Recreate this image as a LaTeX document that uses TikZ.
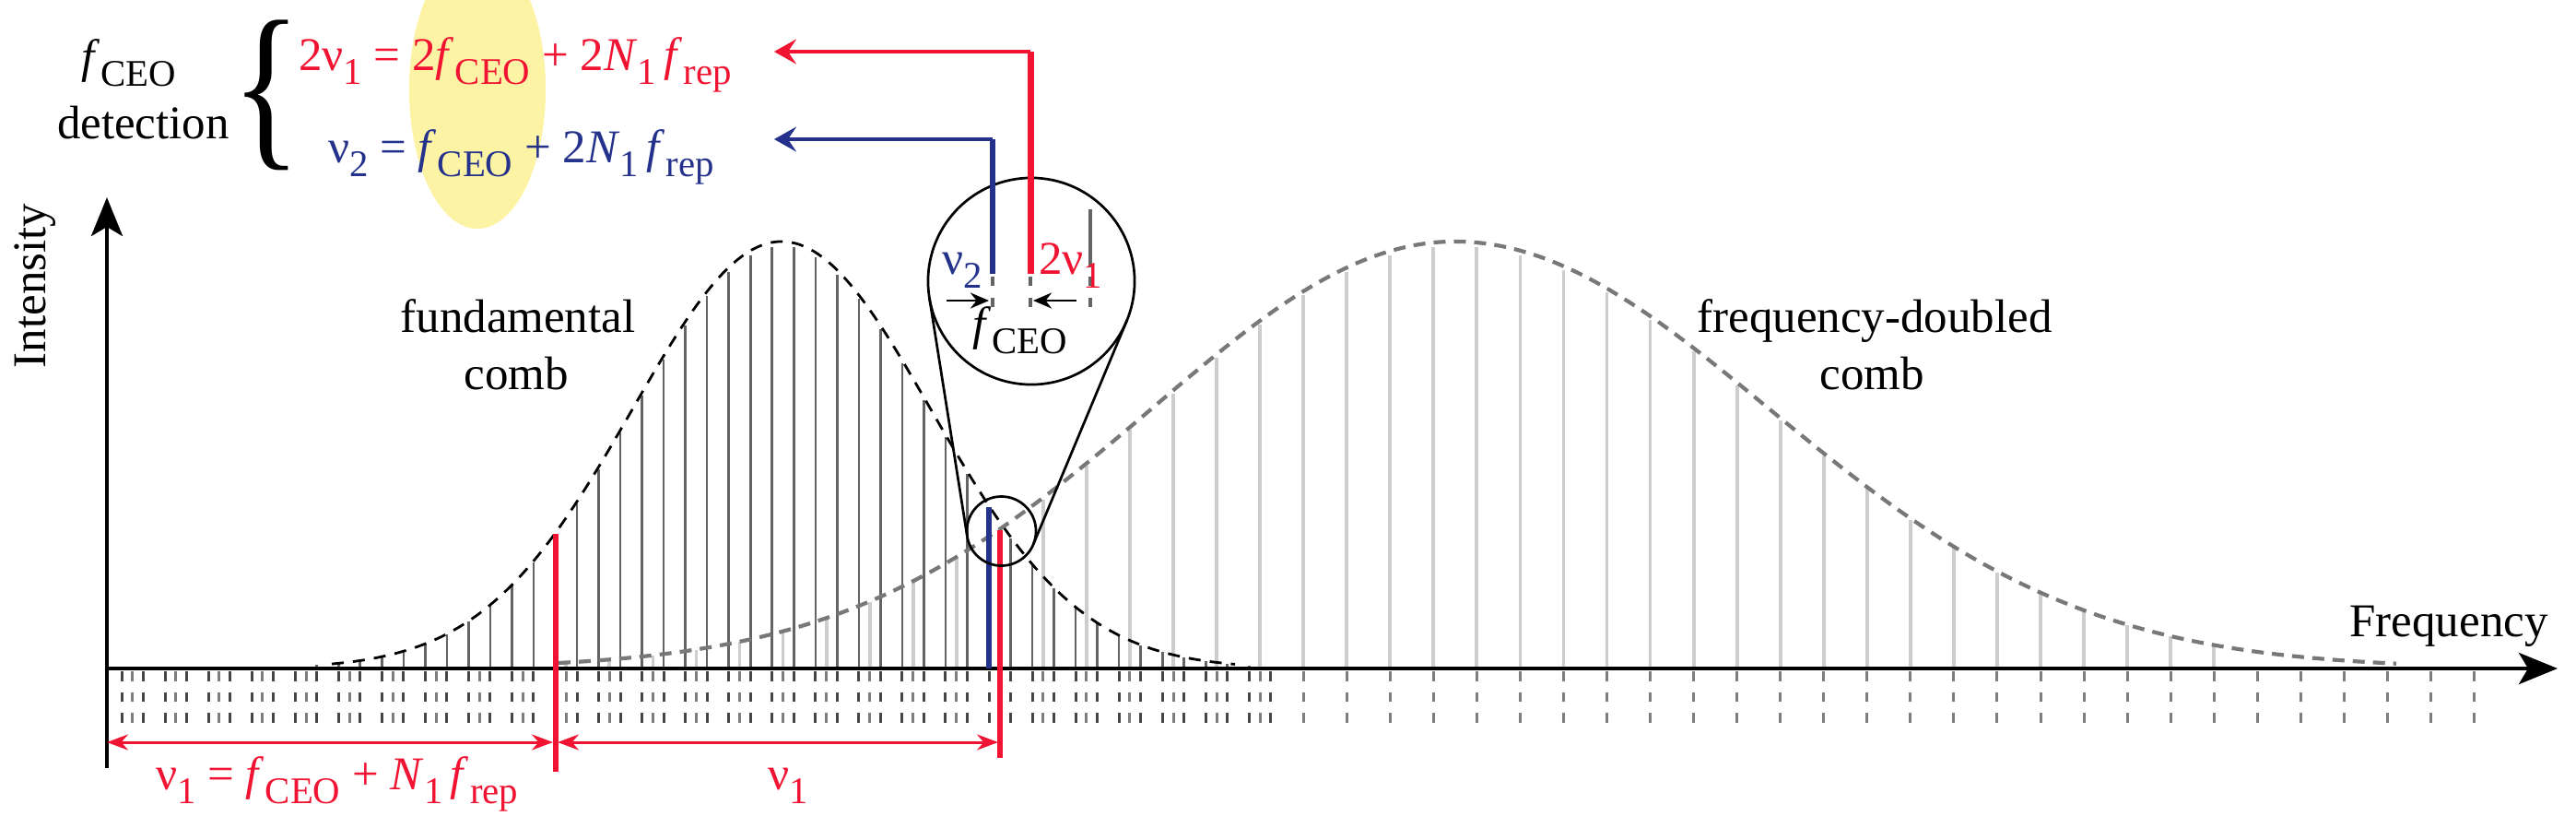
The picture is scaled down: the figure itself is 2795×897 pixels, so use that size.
\documentclass[tikz,border=0pt]{standalone}
\usepackage{fontspec}
\setmainfont{Liberation Serif}
\usepackage{graphicx}
\usetikzlibrary{arrows.meta}
\definecolor{cred}{RGB}{240,20,50}
\definecolor{cblue}{RGB}{36,50,140}
\definecolor{hlyel}{RGB}{252,243,165}
\definecolor{fundc}{RGB}{100,100,100}
\definecolor{dblc}{RGB}{205,205,205}
\definecolor{envc}{RGB}{120,120,120}
\definecolor{tickfc}{RGB}{70,70,70}
\definecolor{tickdc}{RGB}{125,125,125}
\newcommand{\sbs}[1]{\raisebox{-0.3em}{\fontsize{11.6}{11.6}\selectfont #1}}
\newcommand{\fceo}{\textit{f}\kern0.3pt\sbs{CEO}}
\newcommand{\frp}{\textit{f}\kern0.3pt\sbs{rep}}
\newcommand{\None}{\textit{N}\sbs{1}}
\begin{document}
\begin{tikzpicture}[x=0.01cm,y=-0.01cm,
  every node/.style={inner sep=0pt,outer sep=0pt},
  font=\fontsize{14.5}{17.5}\selectfont,
  fundline/.style={draw=fundc,line width=0.026cm},
  dblline/.style={draw=dblc,line width=0.038cm},
  tickf/.style={draw=tickfc,line width=0.03cm,dash pattern=on 0.105cm off 0.12cm},
  tickd/.style={draw=tickdc,line width=0.03cm,dash pattern=on 0.105cm off 0.12cm},
  axisline/.style={line width=0.042cm,-{Stealth[length=0.42cm,width=0.34cm,inset=0.1cm]}},
  redmark/.style={draw=cred,line width=0.03cm,{Stealth[length=0.23cm,width=0.17cm]}-{Stealth[length=0.23cm,width=0.17cm]}},
  toparrow/.style={line width=0.033cm,-{Stealth[length=0.24cm,width=0.27cm,inset=0.09cm]}},
  ceoarrow/.style={line width=0.028cm,-{Stealth[length=0.2cm,width=0.17cm]}},
  zoomline/.style={line width=0.027cm},
  subdash/.style={draw=fundc,line width=0.035cm,dash pattern=on 0.1cm off 0.13cm}]
\useasboundingbox (0,0) rectangle (2795,897);

% highlight
\fill[hlyel] (518,97) ellipse [x radius=0.74cm, y radius=1.51cm];

% ticks below the axis
\foreach \k in {0,...,53}{\pgfmathsetmacro\xx{132+23.525*\k}\draw[tickf] (\xx,728) -- (\xx,786);}
\foreach \j in {0,...,54}{\pgfmathsetmacro\xx{143.8+47.05*\j}\draw[tickd] (\xx,728) -- (\xx,786);}

% frequency-doubled comb lines
\foreach \j in {10,...,48}{
  \pgfmathsetmacro\xx{143.8+47.05*\j}
  \pgfmathsetmacro\dd{(\xx-1578.5)/100}
  \pgfmathsetmacro\ss{ifthenelse(\xx<1578.5,21.78,23.38)}
  \pgfmathsetmacro\hh{458*exp(-min(\dd*\dd/\ss,9))}
  \draw[dblline] (\xx,725) -- (\xx,725-\hh);}

% fundamental comb lines
\foreach \k in {8,...,53}{
  \pgfmathsetmacro\xx{132+23.525*\k}
  \pgfmathsetmacro\dd{(\xx-848)/100}
  \pgfmathsetmacro\hh{458*exp(-min(\dd*\dd/5.2488,9))}
  \draw[fundline] (\xx,725) -- (\xx,725-\hh);}

% envelopes
\draw[black,line width=0.028cm,dash pattern=on 0.13cm off 0.1cm] plot[smooth,domain=360:1340,samples=100] (\x,{725-463*exp(-min(((\x-848)/100)*((\x-848)/100)/5.2488,9))});
\draw[envc,line width=0.042cm,dash pattern=on 0.13cm off 0.09cm] plot[smooth,domain=606:2600,samples=160] (\x,{725-463*exp(-min(((\x-1578.5)/100)*((\x-1578.5)/100)/ifthenelse(\x<1578.5,21.78,23.38),9))});

% axes
\coordinate (ybot) at (116,833);
\coordinate (yend) at (116,214);
\coordinate (origin) at (116,725);
\coordinate (xend) at (2775,725);
\draw[axisline] (ybot) -- (yend);
\draw[axisline] (origin) -- (xend);

% marked lines
\coordinate (nuAtop) at (602.5,579); \coordinate (nuAbot) at (602.5,837);
\draw[cred,line width=0.06cm] (nuAbot) -- (nuAtop);
\coordinate (nuBtop) at (1073,550); \coordinate (nuBbot) at (1073,725);
\draw[cblue,line width=0.066cm] (nuBbot) -- (nuBtop);
\coordinate (nuCtop) at (1085,575); \coordinate (nuCbot) at (1085,822);
\draw[cred,line width=0.066cm] (nuCbot) -- (nuCtop);

% measuring arrows
\coordinate (m1) at (116,805); \coordinate (m2) at (600,805);
\coordinate (m3) at (605,805); \coordinate (m4) at (1083,805);
\draw[redmark] (m1) -- (m2);
\draw[redmark] (m3) -- (m4);
\node[anchor=base west,text=cred] (lbA) at (169,856) {ν\sbs{1} = \fceo{} + \None\,\frp};
\node[anchor=base west,text=cred] (lbB) at (833,856) {ν\sbs{1}};

% magnifier
\node[circle,draw,line width=0.027cm,minimum size=0.75cm] (lens) at (1086.5,576) {};
\node[circle,draw,fill=white,line width=0.027cm,minimum size=2.24cm] (zoom) at (1119,305) {};
\draw[zoomline] (lens.-22.9) -- (zoom.-22.9);
\draw[zoomline] (lens.189) -- (zoom.189);

\coordinate (bbot) at (1077,297); \coordinate (bcorner) at (1077,151); \coordinate (btip) at (840,151);
\coordinate (rbot) at (1118,297); \coordinate (rcorner) at (1118,56); \coordinate (rtip) at (840,56);
\draw[cblue,line width=0.068cm] (bbot) -- (bcorner);
\draw[cred,line width=0.07cm] (rbot) -- (rcorner);
\draw[cblue,toparrow] (bcorner) -- (btip);
\draw[cred,toparrow] (rcorner) -- (rtip);
\coordinate (gtop) at (1183,227); \coordinate (gbot) at (1183,290);
\draw[draw=fundc,line width=0.042cm] (gbot) -- (gtop);
\foreach \xx in {1077,1118,1183}{\draw[subdash] (\xx,300) -- (\xx,337);}
\coordinate (ca1) at (1027,326); \coordinate (ca2) at (1073,326);
\coordinate (cb1) at (1168,326); \coordinate (cb2) at (1121,326);
\draw[ceoarrow] (ca1) -- (ca2);
\draw[ceoarrow] (cb1) -- (cb2);
\node[anchor=base west,text=cblue] (lnu2) at (1022,297) {ν\sbs{2}};
\node[anchor=base west,text=cred] (l2nu1) at (1127,297) {2ν\sbs{1}};
\node[anchor=base west] (lceo) at (1055,368) {\fceo};

% labels
\node[rotate=90] (ylab) at (38,310) {Intensity};
\node[anchor=base] (xlab) at (2657,690) {Frequency};
\node[anchor=base] (fundA) at (562,360) {fundamental};
\node[anchor=base] (fundB) at (560,422) {comb};
\node[anchor=base] (dblA) at (2034,360) {frequency-doubled};
\node[anchor=base] (dblB) at (2031,422) {comb};

% f_CEO detection
\node[anchor=base west] (detA) at (88,78) {\fceo};
\node[anchor=base west] (detB) at (62,150) {detection};
\node (brace) at (289,103) {\scalebox{0.8}[1]{\fontsize{56}{56}\selectfont\{}};
\node[anchor=base west,text=cred] (eqr) at (324,76) {2ν\sbs{1} = 2\fceo{} + 2\None\,\frp};
\node[anchor=base west,text=cblue] (eqb) at (356,176) {ν\sbs{2} = \fceo{} + 2\None\,\frp};
\end{tikzpicture}
\end{document}
